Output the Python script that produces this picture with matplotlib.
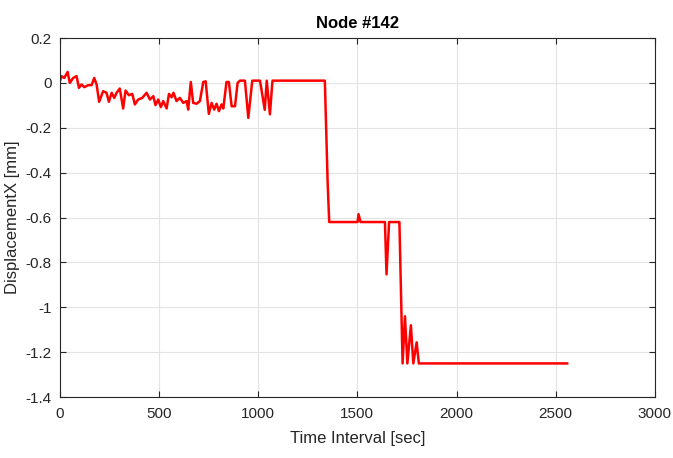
import matplotlib.pyplot as plt

# 시간 [sec] / 변위 [mm]
time_sec = [0, 8, 22, 39, 50, 67, 84, 96, 109, 123, 143, 160, 173, 185, 198,
            218, 235, 247, 261, 274, 286, 302, 319, 331, 348, 365, 378, 395,
            415, 437, 454, 471, 482, 496, 509, 521, 538, 550, 563, 573, 588,
            605, 622, 639, 647, 660, 672, 689, 706, 723, 735, 751, 765, 778,
            790, 802, 815, 824, 840, 852, 866, 883, 896, 908, 933, 950, 970,
            1009, 1033, 1043, 1059, 1072, 1336, 1350, 1358, 1501, 1506, 1516,
            1639, 1647, 1660, 1706, 1712, 1728, 1740, 1752, 1770, 1782, 1799,
            1810, 2558]
disp_x = [0.007, 0.03, 0.022, 0.049, 0.0, 0.022, 0.03, -0.022, -0.007, -0.019,
          -0.01, -0.01, 0.022, -0.007, -0.084, -0.037, -0.044, -0.084, -0.044,
          -0.067, -0.044, -0.025, -0.114, -0.034, -0.055, -0.049, -0.096,
          -0.074, -0.067, -0.044, -0.074, -0.059, -0.099, -0.074, -0.108,
          -0.081, -0.114, -0.049, -0.064, -0.044, -0.081, -0.067, -0.089,
          -0.081, -0.119, 0.004, -0.089, -0.093, -0.081, 0.004, 0.007, -0.138,
          -0.089, -0.119, -0.093, -0.126, -0.096, -0.114, 0.004, 0.004, -0.104,
          -0.104, 0.0, 0.01, 0.01, -0.156, 0.01, 0.01, -0.12, 0.01, -0.14,
          0.01, 0.01, -0.44, -0.62, -0.62, -0.585, -0.62, -0.62, -0.853,
          -0.62, -0.62, -0.62, -1.25, -1.04, -1.25, -1.08, -1.25, -1.156,
          -1.25, -1.25]

plt.rcParams['font.family'] = ['Liberation Sans', 'DejaVu Sans']

fig = plt.figure(figsize=(6.73, 4.58), dpi=100)
ax = fig.add_axes([0.089, 0.133, 0.884, 0.784])

ax.plot(time_sec, disp_x, color='red', linewidth=1.8)

ax.set_xlim(0, 3000)
ax.set_ylim(-1.4, 0.2)
ax.set_xticks(range(0, 3001, 500))
ax.set_yticks([-1.4, -1.2, -1, -0.8, -0.6, -0.4, -0.2, 0, 0.2])
ax.set_yticklabels(['-1.4', '-1.2', '-1', '-0.8', '-0.6', '-0.4', '-0.2', '0', '0.2'])

ax.grid(True, color='#e3e3e3', linewidth=0.8)
ax.tick_params(direction='in', top=True, right=True, labelsize=11,
               length=4, colors='#262626')
ax.tick_params(axis='x', pad=7)
ax.tick_params(axis='y', pad=6)
for s in ax.spines.values():
    s.set_color('#262626')
    s.set_linewidth(0.8)

ax.set_title('Node #142', fontsize=12, fontweight='bold', pad=7)
ax.set_xlabel('Time Interval [sec]', fontsize=12, color='#262626', labelpad=7)
ax.set_ylabel('DisplacementX [mm]', fontsize=12, color='#262626', labelpad=4)

fig.savefig('out.png', dpi=100)
